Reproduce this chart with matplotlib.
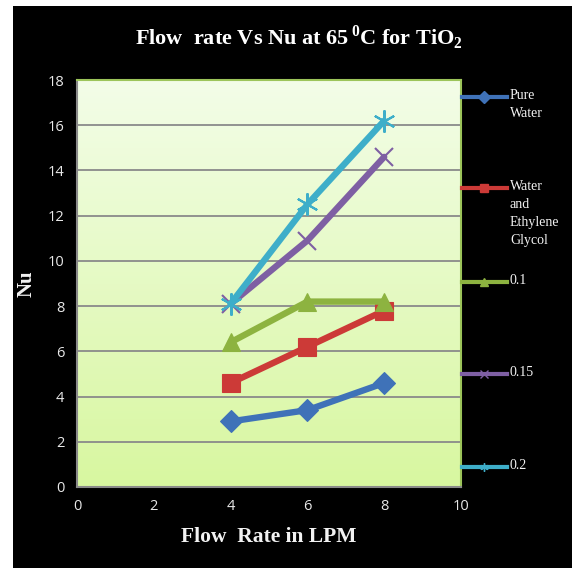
import numpy as np
import matplotlib
matplotlib.use('Agg')
import matplotlib.pyplot as plt
from matplotlib.patches import Rectangle
from matplotlib.lines import Line2D

flow = [4, 6, 8]
pure_water = [2.9, 3.4, 4.6]
water_eg = [4.6, 6.2, 7.8]
tio2_01 = [6.4, 8.2, 8.2]
tio2_015 = [8.1, 10.9, 14.6]
tio2_02 = [8.1, 12.5, 16.2]

labels = ['Pure\nWater', 'Water\nand\nEthylene\nGlycol', '0.1', '0.15', '0.2']
series = [pure_water, water_eg, tio2_01, tio2_015, tio2_02]
colors = ['#3f72b8', '#cc3a37', '#8db340', '#7e5fa3', '#3eaec9']
markers = ['D', 's', '^', 'x', (6, 2, 0)]
msizes = [11, 13, 13, 13, 16]
leg_y = [97, 188, 282, 374, 467]   # legend rows, pixels from top

plt.rcParams['mathtext.fontset'] = 'custom'
plt.rcParams['mathtext.rm'] = 'Liberation Serif'
plt.rcParams['mathtext.bf'] = 'Liberation Serif:bold'

W, H = 572, 568
fig = plt.figure(figsize=(W / 100, H / 100), dpi=100)
fig.patch.set_facecolor('white')
fig.patches.append(Rectangle((13 / W, 0), 1, 1 - 6 / H, transform=fig.transFigure,
                             facecolor='black', edgecolor='none', zorder=-10))

ax = fig.add_axes([77 / W, 1 - 487 / H, (461 - 77) / W, (487 - 80) / H])
ax.set_xlim(0, 10)
ax.set_ylim(0, 18)

# gradient background of the plot area
grad = np.linspace(0, 1, 256).reshape(-1, 1)
cmap = matplotlib.colors.LinearSegmentedColormap.from_list('bg', ['#d8f7a0', '#f3fde8'])
ax.imshow(grad, extent=[0, 10, 0, 18], origin='lower', aspect='auto', cmap=cmap, zorder=0)

for yv in range(2, 18, 2):
    ax.axhline(yv, color='#8a8a8a', lw=1.3, zorder=1)

for vals, c, m, ms in zip(series, colors, markers, msizes):
    ax.plot(flow, vals, color=c, lw=4.6, marker=m, markersize=ms,
            markeredgecolor=c, markeredgewidth=1.5 if m in ('x', (6, 2, 0)) else 0.8,
            solid_capstyle='round', zorder=3)

for s in ['top', 'right']:
    ax.spines[s].set_color('#9cc45a')
for s in ['left', 'bottom']:
    ax.spines[s].set_color('#8a8a8a')
for s in ax.spines.values():
    s.set_linewidth(1.5)

ax.set_xticks(range(0, 11, 2))
ax.set_yticks(range(0, 19, 2))
ax.tick_params(length=0, colors='#e8e8e8', labelsize=10.5, pad=9)
for t in ax.get_xticklabels() + ax.get_yticklabels():
    t.set_fontfamily('Open Sans')

ax.set_xlabel('Flow  Rate in LPM', fontfamily='Liberation Serif', fontweight='bold',
              fontsize=15.5, color='#f2f2f2', labelpad=9)
ax.set_ylabel('Nu', fontfamily='Liberation Serif', fontweight='bold',
              fontsize=15, color='#f2f2f2', labelpad=8)

fig.text(299 / W, 1 - 38 / H, r'Flow  rate Vs Nu at 65$\,^{\mathbf{0}}$C for TiO$_{\mathbf{2}}$',
         ha='center', va='center', fontfamily='Liberation Serif', fontweight='bold',
         fontsize=16, color='white')

# legend on the right
for lab, c, m, ly in zip(labels, colors, markers, leg_y):
    yf = 1 - ly / H
    fig.add_artist(Line2D([462 / W, 507 / W], [yf, yf], transform=fig.transFigure,
                          color=c, lw=3))
    fig.add_artist(Line2D([484.5 / W], [yf], transform=fig.transFigure, color=c,
                          marker=m, markersize=6, markeredgecolor=c, lw=0))
    fig.text(510 / W, 1 - (ly - 8) / H, lab, ha='left', va='top',
             fontfamily='Liberation Serif', fontsize=10, color='#f2f2f2', linespacing=1.5)

fig.savefig('out.png', dpi=100)
